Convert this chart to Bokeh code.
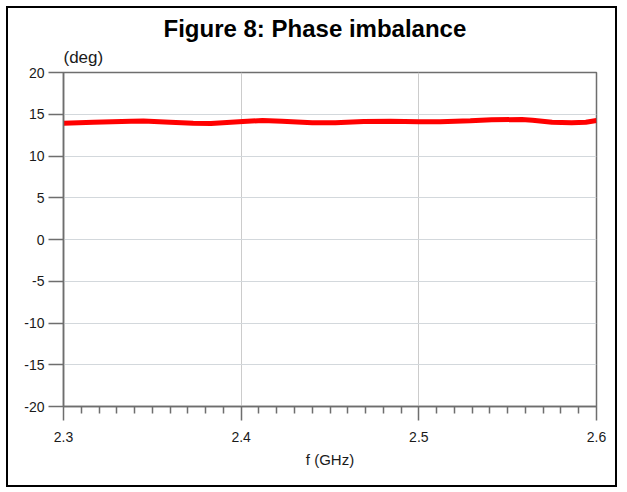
from bokeh.plotting import figure
from bokeh.models import Range1d, FixedTicker, Title, CustomJSTickFormatter
from bokeh.embed import file_html
from bokeh.resources import INLINE

# ---- data ----
freq_ghz = [2.300, 2.317, 2.338, 2.345, 2.360, 2.373, 2.383, 2.401, 2.412, 2.423,
            2.440, 2.453, 2.469, 2.484, 2.500, 2.512, 2.529, 2.541, 2.558, 2.564,
            2.575, 2.586, 2.594, 2.600]
phase_imbalance_deg = [13.93, 14.05, 14.17, 14.19, 14.05, 13.93, 13.89, 14.13, 14.25, 14.17,
                       13.98, 13.98, 14.13, 14.17, 14.10, 14.10, 14.22, 14.34, 14.37, 14.29,
                       14.05, 13.98, 14.05, 14.25]
x_ticks = [2.3, 2.4, 2.5, 2.6]
y_ticks = [-20, -15, -10, -5, 0, 5, 10, 15, 20]
x_minor_per_interval = 10

FONT = "Liberation Sans"
AXIS_GRAY = "#6e6e6e"

minor = []
for a, b in zip(x_ticks[:-1], x_ticks[1:]):
    step = (b - a) / x_minor_per_interval
    minor += [a + k * step for k in range(1, x_minor_per_interval)]

p = figure(width=611, height=481, output_backend="svg", toolbar_location=None,
           x_range=Range1d(x_ticks[0], x_ticks[-1]), y_range=Range1d(y_ticks[0], y_ticks[-1]),
           min_border_left=55, min_border_right=23, min_border_top=64, min_border_bottom=83,
           title=None)
p.styles = {"border": "2px solid black", "margin-left": "6px", "margin-top": "6px"}

# unit label just above the frame (added first -> closest to the frame)
p.add_layout(Title(text="(deg)", align="left", offset=0, standoff=12,
                   text_font=FONT, text_font_size="17px", text_font_style="normal",
                   text_color="#1a1a1a"), "above")
# main title
p.add_layout(Title(text="Figure 8: Phase imbalance", align="left", offset=100, standoff=-4,
                   text_font=FONT, text_font_size="24px", text_font_style="bold",
                   text_color="black"), "above")

p.line(freq_ghz, phase_imbalance_deg, line_color="#ff0000", line_width=5)

p.outline_line_color = AXIS_GRAY
p.outline_line_width = 1.5

p.xaxis.ticker = FixedTicker(ticks=x_ticks, minor_ticks=minor)
p.yaxis.ticker = FixedTicker(ticks=y_ticks, minor_ticks=[])
p.xaxis.formatter = CustomJSTickFormatter(code="return tick.toFixed(1);")
p.yaxis.formatter = CustomJSTickFormatter(code="return Math.round(tick).toString();")

for ax in (p.xaxis, p.yaxis):
    ax.axis_line_color = AXIS_GRAY
    ax.axis_line_width = 1.5
    ax.major_tick_line_color = AXIS_GRAY
    ax.major_tick_line_width = 1.5
    ax.minor_tick_line_color = AXIS_GRAY
    ax.minor_tick_line_width = 1.5
    ax.major_tick_in = 0
    ax.minor_tick_in = 0
    ax.major_label_text_font = FONT
    ax.major_label_text_font_size = "14px"
    ax.major_label_text_color = "#1a1a1a"

p.xaxis.major_tick_out = 14
p.xaxis.minor_tick_out = 7
p.xaxis.major_label_standoff = 11
p.xaxis.axis_label = "f (GHz)"
p.xaxis.axis_label_text_font = FONT
p.xaxis.axis_label_text_font_size = "15px"
p.xaxis.axis_label_text_font_style = "normal"
p.xaxis.axis_label_text_color = "#1a1a1a"
p.xaxis.axis_label_standoff = 6

p.yaxis.major_tick_out = 15
p.yaxis.minor_tick_out = 0
p.yaxis.major_label_standoff = 4

p.xgrid.grid_line_color = "#cccccc"
p.ygrid.grid_line_color = "#d3d8dc"
p.xgrid.grid_line_width = 1
p.ygrid.grid_line_width = 1

open("out.html", "w").write(file_html(p, INLINE))
